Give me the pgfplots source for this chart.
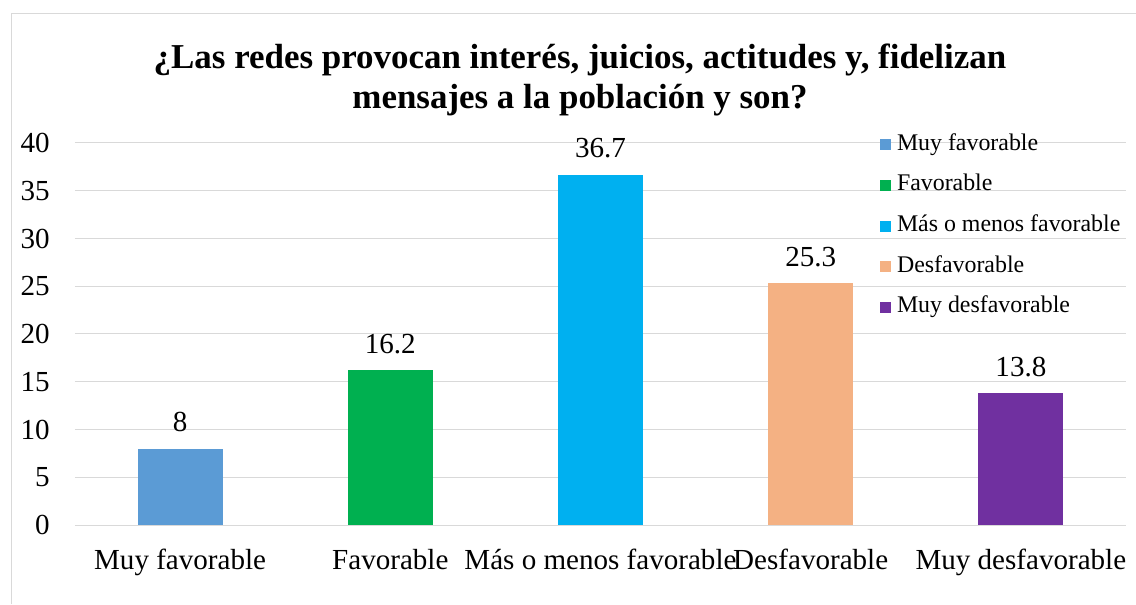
\documentclass[border=0pt]{standalone}
\usepackage{fontspec}
\setmainfont{Liberation Serif}
\usepackage{pgfplots}
\pgfplotsset{compat=1.18}
\definecolor{c1}{HTML}{5B9BD5}
\definecolor{c2}{HTML}{00B050}
\definecolor{c3}{HTML}{00B0F0}
\definecolor{c4}{HTML}{F4B183}
\definecolor{c5}{HTML}{7030A0}
\definecolor{gridc}{HTML}{D9D9D9}
\pgfplotsset{myleg/.style={legend image code/.code={\fill[##1] (0pt,0pt) rectangle (8.25pt,8.25pt);}}}
\begin{document}
\begin{tikzpicture}
\useasboundingbox (0,0) rectangle (852pt,453pt);
\fill[white] (0,0) rectangle (852pt,453pt);
\draw[gridc, line width=0.75pt] (8.25pt,0) -- (8.25pt,442.5pt) -- (852pt,442.5pt);
\node[anchor=base, inner sep=0pt, font=\fontsize{26.2}{30}\selectfont\bfseries] at (435pt,401.5pt) {¿Las redes provocan interés, juicios, actitudes y, fidelizan};
\node[anchor=base, inner sep=0pt, font=\fontsize{26.2}{30}\selectfont\bfseries] at (435pt,371.5pt) {mensajes a la población y son?};
\begin{axis}[
  at={(56.25pt,59.25pt)}, anchor=south west,
  scale only axis, width=788.25pt, height=286.5pt,
  xmin=-0.5, xmax=4.5, ymin=0, ymax=40,
  ytick={0,5,...,40}, xtick={0,1,2,3,4},
  xticklabels={Muy favorable, Favorable, Más o menos favorable, Desfavorable, Muy desfavorable},
  ymajorgrids, grid style={gridc, line width=0.75pt},
  axis line style={draw=none}, major tick length=0pt, tick style={draw=none},
  tick label style={font=\fontsize{21.8}{26}\selectfont, inner sep=0pt},
  /pgf/number format/assume math mode=true,
  yticklabel style={anchor=east, xshift=-18.75pt},
  xticklabel style={anchor=base, yshift=-33pt},
  ybar, bar width=63.75pt,
  nodes near coords,
  nodes near coords style={font=\fontsize{21.8}{26}\selectfont, anchor=base, inner sep=0pt, yshift=12.75pt, text=black},
  legend style={at={(0.7657,1.0306)}, anchor=north west, draw=none, fill=none, inner sep=0pt,
    row sep=12.5pt, column sep=4.5pt, font=\fontsize{17.9}{21}\selectfont,
    nodes={inner sep=0pt, text height=14pt, text depth=4pt}, cells={anchor=base west}},
]
\addplot[fill=c1, draw=none, bar shift=0pt, myleg] coordinates {(0,8)};
\addlegendentry{Muy favorable}
\addplot[fill=c2, draw=none, bar shift=0pt, myleg] coordinates {(1,16.2)};
\addlegendentry{Favorable}
\addplot[fill=c3, draw=none, bar shift=0pt, myleg] coordinates {(2,36.7)};
\addlegendentry{Más o menos favorable}
\addplot[fill=c4, draw=none, bar shift=0pt, myleg] coordinates {(3,25.3)};
\addlegendentry{Desfavorable}
\addplot[fill=c5, draw=none, bar shift=0pt, myleg] coordinates {(4,13.8)};
\addlegendentry{Muy desfavorable}
\end{axis}
\end{tikzpicture}
\end{document}
